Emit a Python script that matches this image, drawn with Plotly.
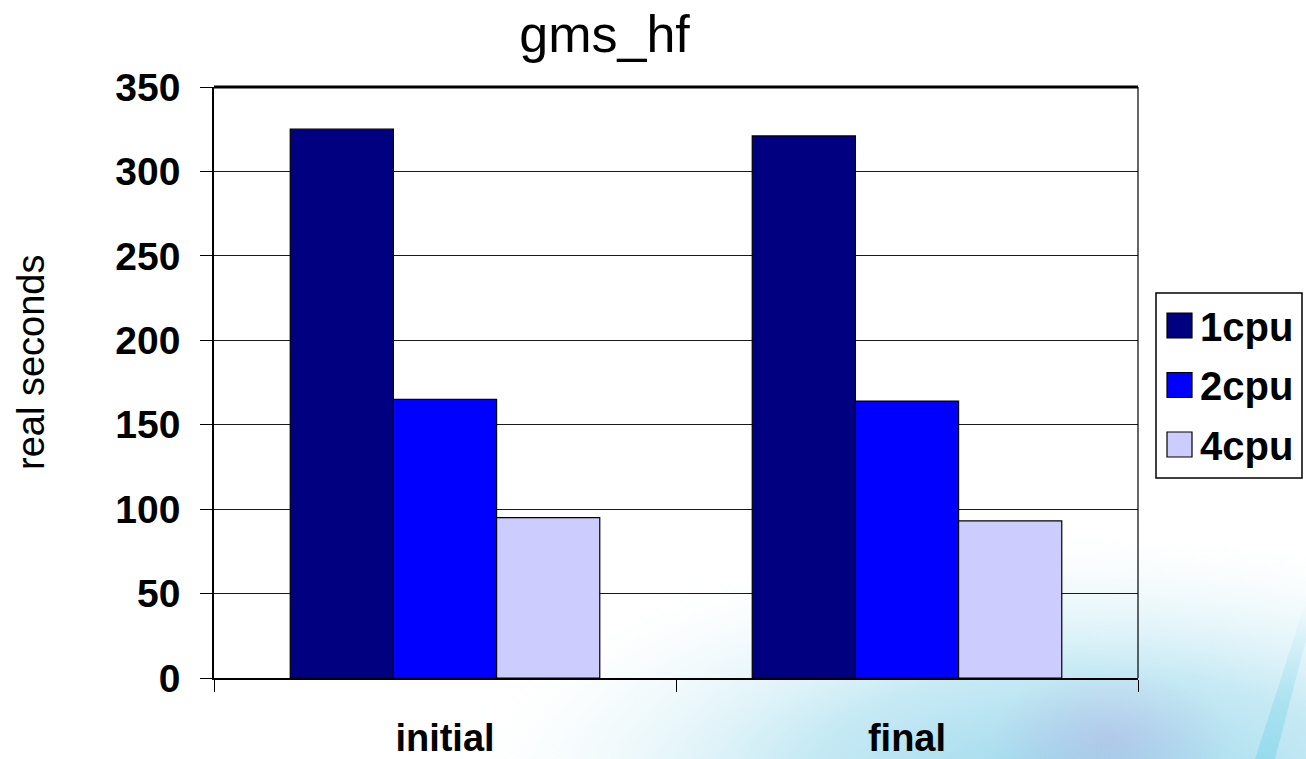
import base64
import plotly.graph_objects as go

categories = ["initial", "final"]
series_names = ["1cpu", "2cpu", "4cpu"]
cpu1 = [325, 321]
cpu2 = [165, 164]
cpu4 = [95, 93]
series_values = [cpu1, cpu2, cpu4]
colors = ["#000080", "#0000FF", "#CCCCFF"]

FONT = "Liberation Sans, Arial, sans-serif"
W, H = 1306, 759
ML, MR, MT, MB = 214, 168, 87, 81
PW, PH = W - ML - MR, H - MT - MB


def px_x(px):
    return (px - ML) / PW


def px_y(py):
    return 1 - (py - MT) / PH


fig = go.Figure()
for name, vals, col in zip(series_names, series_values, colors):
    fig.add_trace(go.Bar(
        x=categories, y=vals, name=name, showlegend=False,
        marker=dict(color=col, line=dict(color="black", width=1.2)),
    ))

# background swoosh (decorative)
svg = f'''<svg xmlns="http://www.w3.org/2000/svg" width="{W}" height="{H}" viewBox="0 0 {W} {H}">
<defs>
<radialGradient id="g1" gradientUnits="userSpaceOnUse" cx="1080" cy="790" r="520" gradientTransform="translate(1080 790) scale(1.25 0.52) translate(-1080 -790)">
<stop offset="0" stop-color="#8fd3ea" stop-opacity="0.95"/>
<stop offset="0.45" stop-color="#b5e3f1" stop-opacity="0.75"/>
<stop offset="0.75" stop-color="#dff3f9" stop-opacity="0.4"/>
<stop offset="1" stop-color="#ffffff" stop-opacity="0"/>
</radialGradient>
<radialGradient id="g2" gradientUnits="userSpaceOnUse" cx="1110" cy="740" r="120" gradientTransform="translate(1110 740) scale(1.0 0.6) translate(-1110 -740)">
<stop offset="0" stop-color="#b8a8e0" stop-opacity="0.4"/>
<stop offset="1" stop-color="#b8a8e0" stop-opacity="0"/>
</radialGradient>
<linearGradient id="g3" x1="0" y1="1" x2="0" y2="0">
<stop offset="0" stop-color="#7fd6ea" stop-opacity="0.6"/>
<stop offset="1" stop-color="#7fd6ea" stop-opacity="0"/>
</linearGradient>
</defs>
<rect x="0" y="0" width="{W}" height="{H}" fill="url(#g1)"/>
<rect x="0" y="0" width="{W}" height="{H}" fill="url(#g2)"/>
<polygon points="1255,759 1275,759 1306,640 1306,600" fill="url(#g3)"/>
</svg>'''
src = "data:image/svg+xml;base64," + base64.b64encode(svg.encode()).decode()
fig.add_layout_image(dict(
    source=src, xref="paper", yref="paper",
    x=px_x(0), y=px_y(0), sizex=W / PW, sizey=H / PH,
    xanchor="left", yanchor="top", sizing="stretch", layer="below", opacity=1,
))

fig.update_layout(
    width=W, height=H,
    margin=dict(l=ML, r=MR, t=MT, b=MB, autoexpand=False),
    paper_bgcolor="white", plot_bgcolor="rgba(0,0,0,0)",
    barmode="group", bargap=0.33, bargroupgap=0,
    title=dict(text="gms_hf", xref="container", x=604.5 / W, xanchor="center",
               y=1 - 34 / H, yanchor="middle",
               font=dict(family=FONT, size=52, color="black")),
    font=dict(family=FONT, color="black"),
    showlegend=False,
)

fig.update_yaxes(
    range=[0, 350], dtick=50, tick0=0,
    showgrid=True, gridcolor="#1a1a1a", gridwidth=1,
    showline=True, linecolor="black", linewidth=1.5,
    ticks="outside", ticklen=12, tickcolor="black", tickwidth=1.2,
    tickfont=dict(family=FONT, size=39, color="black", weight="bold"),
    ticklabelstandoff=12,
    zeroline=False, automargin=False,
)
fig.update_xaxes(
    showline=True, linecolor="black", linewidth=1.5,
    ticks="outside", tickson="boundaries", ticklen=12, tickcolor="black", tickwidth=1.2,
    tickfont=dict(family=FONT, size=38, color="black", weight="bold"),
    ticklabelstandoff=26, automargin=False,
)

# y-axis title
fig.add_annotation(text="real seconds", xref="paper", yref="paper",
                   x=px_x(31), y=px_y(363), xanchor="center", yanchor="middle",
                   textangle=-90, showarrow=False,
                   font=dict(family=FONT, size=38, color="black"))

# frame lines
fig.add_shape(type="line", xref="paper", yref="paper", x0=0, x1=1, y0=1, y1=1,
              line=dict(color="black", width=3))
fig.add_shape(type="line", xref="paper", yref="paper", x0=1, x1=1, y0=0, y1=1,
              line=dict(color="black", width=1.2))

# custom legend
fig.add_shape(type="rect", xref="paper", yref="paper",
              x0=px_x(1156), x1=px_x(1302), y0=px_y(293), y1=px_y(478),
              line=dict(color="black", width=1.5), fillcolor="white")
for i, (name, col) in enumerate(zip(series_names, colors)):
    cy = 325.5 + 59.5 * i
    fig.add_shape(type="rect", xref="paper", yref="paper",
                  x0=px_x(1167), x1=px_x(1192), y0=px_y(cy - 12.5), y1=px_y(cy + 12.5),
                  line=dict(color="black", width=1.2), fillcolor=col)
    fig.add_annotation(text=f"<b>{name}</b>", xref="paper", yref="paper",
                       x=px_x(1198), y=px_y(cy + 1), xanchor="left", yanchor="middle",
                       showarrow=False,
                       font=dict(family=FONT, size=40, color="black"))

fig.write_html("out.html", config={"displayModeBar": False},
               post_script="document.body.style.margin='0px';")
